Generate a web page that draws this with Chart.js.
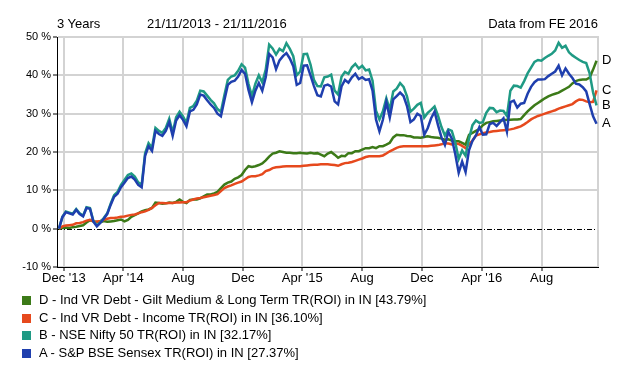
<!DOCTYPE html>
<html>
<head>
<meta charset="utf-8">
<script src="https://cdn.jsdelivr.net/npm/chart.js@4/dist/chart.umd.min.js"></script>
<style>
    body { margin: 0; background: #fff; }
    #wrap { position: relative; width: 624px; height: 369px; font-family: "Liberation Sans", Arial, sans-serif; color: #000; }
    #chart { position: absolute; left: 0; top: 0; }
    .hdr { position: absolute; top: 16px; font-size: 13px; line-height: 15px; white-space: nowrap; }
    #legend { position: absolute; left: 22px; top: 291px; font-size: 13px; }
    .row { height: 17.7px; line-height: 17.7px; white-space: nowrap; }
    .box { display: inline-block; width: 9px; height: 9px; margin-right: 8px; vertical-align: -1px; }
</style>
</head>
<body>
<div id="wrap">
    <canvas id="chart" width="624" height="369"></canvas>
    <div class="hdr" style="left:57px">3 Years</div>
    <div class="hdr" style="left:147px">21/11/2013 - 21/11/2016</div>
    <div class="hdr" style="right:26px">Data from FE 2016</div>
    <div id="legend"></div>
</div>
<script>
// Period shown on the chart
const startDate = '2013-11-21';
const endDate = '2016-11-21';

// X axis ticks (first day of each month shown)
const tickDates = ['2013-12-01', '2014-04-01', '2014-08-01', '2014-12-01', '2015-04-01', '2015-08-01', '2015-12-01', '2016-04-01', '2016-08-01'];
const tickLabels = ["Dec '13", "Apr '14", 'Aug', 'Dec', "Apr '15", 'Aug', 'Dec', "Apr '16", 'Aug'];

// Y axis
const yTicks = [-10, 0, 10, 20, 30, 40, 50];

// Series names, letters and colours
const seriesLetters = ['A', 'B', 'C', 'D'];
const seriesNames = [
    'A - S&P BSE Sensex TR(ROI) in IN [27.37%]',
    'B - NSE Nifty 50 TR(ROI) in IN [32.17%]',
    'C - Ind VR Debt - Income TR(ROI) in IN [36.10%]',
    'D - Ind VR Debt - Gilt Medium & Long Term TR(ROI) in IN [43.79%]'
];
const seriesColors = ['#1f3fae', '#1f9a84', '#e6491d', '#3c7a18'];

// Weekly cumulative return (%)
const seriesA = [
    0, 3.0, 4.3, 4.0, 3.7, 4.9, 3.8, 3.2, 5.4, 5.2,
    1.8, 0.6, 1.5, 2.6, 3.8, 6.2, 8.3, 9.1, 10.8, 12.0,
    13.2, 13.6, 12.8, 11.4, 10.8, 19.0, 21.5, 20.3, 25.5, 24.7,
    24.2, 25.5, 27.8, 24.2, 28.2, 29.6, 28.4, 26.7, 30.6, 31.0,
    32.4, 35.0, 34.7, 33.5, 32.4, 31.5, 30.0, 29.3, 33.5, 37.5,
    38.3, 38.6, 39.7, 41.4, 40.4, 36.2, 33.0, 36.0, 38.0, 36.0,
    39.5, 45.6, 44.7, 41.6, 43.9, 45.0, 45.8, 44.4, 42.4, 37.5,
    38.0, 42.5, 42.6, 40.0, 37.2, 34.8, 34.5, 37.3, 37.6, 37.1,
    33.2, 32.4, 37.1, 38.8, 38.1, 39.5, 40.4, 39.0, 39.5, 38.8,
    39.0, 36.0, 28.5, 25.4, 28.4, 33.0, 29.0, 33.7, 34.6, 35.5,
    34.6, 32.0, 27.8, 28.5, 30.0, 29.4, 24.5, 26.2, 28.8, 30.5,
    27.0, 23.8, 21.8, 25.3, 23.5, 19.5, 14.6, 17.5, 14.8, 20.5,
    22.9, 24.3, 26.5, 24.5, 24.6, 27.3, 27.6, 26.8, 27.8, 28.8,
    25.3, 33.0, 33.4, 31.6, 32.6, 32.8, 35.2, 37.0, 38.2, 38.9,
    38.9, 39.0, 39.8, 40.4, 41.0, 42.5, 40.0, 41.8, 40.4, 39.3,
    37.8, 37.6, 36.9, 35.8, 32.5, 29.3, 27.37
];
const seriesB = [
    0, 3.1, 4.5, 4.2, 3.9, 5.1, 4.0, 3.4, 5.6, 5.4,
    2.0, 0.8, 1.7, 2.8, 4.0, 6.5, 8.7, 9.6, 11.4, 12.7,
    14.0, 14.4, 13.6, 12.1, 11.4, 19.7, 22.3, 21.1, 26.3, 25.5,
    25.0, 26.3, 28.7, 25.1, 29.1, 30.5, 29.3, 27.6, 31.5, 32.0,
    33.4, 36.0, 35.8, 34.7, 33.6, 32.7, 31.2, 30.5, 34.8, 38.8,
    39.7, 40.0, 41.2, 42.9, 42.0, 37.8, 34.6, 37.8, 40.0, 38.2,
    41.5, 48.0, 47.0, 45.4, 46.9, 46.3, 48.4, 46.9, 45.0, 40.0,
    41.0, 45.5, 45.6, 42.8, 38.8, 37.2, 37.1, 39.5, 39.7, 40.2,
    36.0, 35.0, 39.6, 40.9, 40.4, 42.1, 43.0, 41.8, 42.5, 41.3,
    41.5, 38.6, 30.8, 28.5, 30.6, 34.0, 31.0, 35.8, 36.5, 38.0,
    37.0, 34.5, 30.5, 31.3, 32.3, 32.8, 29.0, 30.2, 31.0, 31.9,
    29.5, 26.5, 24.3, 25.9, 25.5, 22.5, 18.2, 20.4, 19.0, 23.5,
    27.0, 28.2, 27.6, 27.8, 30.2, 31.5, 31.4, 30.4, 30.8, 30.7,
    29.4, 36.0, 37.3, 37.2, 36.8, 38.5, 40.5, 42.0, 43.5, 44.0,
    43.8, 44.5, 45.1, 45.6, 46.5, 48.5, 47.2, 47.7, 46.0, 45.2,
    44.6, 44.0, 43.5, 43.2, 40.5, 35.5, 32.17
];
const seriesC = [
    0, 0.6, 0.8, 0.9, 1.0, 1.4, 1.5, 1.7, 2.1, 2.3,
    1.9, 1.8, 2.0, 2.3, 2.6, 2.8, 2.8, 2.9, 3.1, 3.2,
    3.4, 3.6, 3.7, 4.0, 4.3, 4.5, 4.9, 5.4, 6.1, 6.7,
    6.7, 6.6, 6.7, 6.7, 6.8, 6.8, 6.9, 6.9, 7.3, 7.6,
    7.9, 8.0, 8.2, 8.4, 8.6, 8.8, 9.0, 9.8, 10.6, 11.0,
    11.3, 11.7, 12.0, 12.3, 12.9, 13.5, 13.7, 13.7, 13.9, 14.2,
    15.0, 15.3, 15.8, 16.0, 16.1, 16.2, 16.3, 16.3, 16.3, 16.3,
    16.3, 16.4, 16.5, 16.6, 16.7, 16.7, 16.8, 16.8, 16.8, 16.7,
    16.6, 16.4, 16.8, 17.1, 17.2, 17.4, 17.7, 18.0, 18.3, 18.7,
    18.9, 18.9, 18.9, 18.9, 19.1, 19.6, 20.2, 20.6, 21.1, 21.4,
    21.5, 21.5, 21.5, 21.5, 21.5, 21.5, 21.5, 21.5, 21.6, 21.7,
    21.8, 22.0, 22.3, 22.2, 22.0, 22.3, 22.1, 21.6, 21.0, 22.0,
    23.0, 24.3, 24.6, 24.9, 25.1, 25.2, 25.4, 25.5, 25.6, 25.7,
    25.8, 25.9, 26.1, 26.4, 26.7, 27.2, 27.8, 28.5, 29.0, 29.4,
    29.7, 30.0, 30.3, 30.6, 30.9, 31.3, 31.6, 31.9, 32.2, 32.5,
    33.2, 33.7, 33.6, 33.2, 33.0, 33.1, 36.1
];
const seriesD = [
    0, 0.2, 0.3, 0.2, 0.4, 0.5, 0.7, 0.9, 1.6, 2.2,
    1.9, 1.8, 1.7, 2.0, 1.8, 1.9, 2.0, 2.2, 2.4, 1.9,
    2.3, 3.1, 3.5, 4.0, 4.5, 4.8, 5.0, 5.4, 6.8, 6.7,
    6.5, 6.6, 6.8, 6.7, 7.0, 7.6, 7.0, 6.7, 7.5, 7.6,
    7.6, 7.9, 8.4, 8.9, 8.9, 9.2, 9.6, 10.6, 11.5, 12.0,
    12.3, 13.0, 13.4, 14.0, 15.3, 16.3, 16.1, 16.3, 16.6, 17.0,
    17.8, 18.8, 19.6, 19.8, 20.2, 20.0, 19.8, 19.8, 19.7, 19.7,
    19.8, 19.7, 19.6, 19.8, 19.6, 19.7, 19.3, 18.9, 19.6, 20.0,
    19.3, 18.5, 19.0, 18.9, 19.7, 19.7, 20.2, 20.2, 20.6, 21.0,
    21.0, 21.3, 21.0, 21.5, 21.5, 21.9, 22.4, 23.8, 24.5, 24.4,
    24.4, 24.2, 24.1, 23.8, 23.8, 23.7, 23.9, 24.1, 23.9, 23.8,
    23.7, 23.5, 23.2, 23.3, 23.0, 22.8, 22.8, 22.4, 21.9, 24.5,
    25.0, 25.5, 26.0, 27.0, 27.6, 27.8, 28.0, 28.1, 28.2, 28.3,
    28.4, 28.4, 28.5, 28.5, 28.6, 29.6, 30.6, 31.4, 32.2, 32.8,
    33.4, 34.0, 34.5, 34.9, 35.2, 35.5, 36.0, 36.5, 37.0, 37.9,
    38.5, 38.8, 38.9, 38.9, 39.4, 41.5, 43.79
];

const allSeries = [seriesA, seriesB, seriesC, seriesD];

const fontFamily = '"Liberation Sans", Arial, sans-serif';

// days between two ISO dates
function daysFrom(a, b) {
    return (Date.parse(b) - Date.parse(a)) / 86400000;
}

document.addEventListener('DOMContentLoaded', function() {
    buildLegend();
    initChart();
});

// Legend below the chart, D on top
function buildLegend() {
    const legend = document.getElementById('legend');
    for (let i = seriesNames.length - 1; i >= 0; i--) {
        const row = document.createElement('div');
        row.className = 'row';
        const box = document.createElement('span');
        box.className = 'box';
        box.style.background = seriesColors[i];
        row.appendChild(box);
        row.appendChild(document.createTextNode(seriesNames[i]));
        legend.appendChild(row);
    }
}

function initChart() {
    const totalDays = daysFrom(startDate, endDate);
    const tickDays = tickDates.map(d => daysFrom(startDate, d));

    const datasets = allSeries.map(function(values, s) {
        const step = totalDays / (values.length - 1);
        return {
            label: seriesNames[s],
            data: values.map((v, i) => ({ x: i * step, y: v })),
            borderColor: seriesColors[s],
            backgroundColor: seriesColors[s],
            borderWidth: 2.5,
            pointRadius: 0,
            tension: 0,
            fill: false
        };
    });

    // zero line, right frame edge and end letters
    const extras = {
        id: 'extras',
        beforeDatasetsDraw(chart) {
            const { ctx, chartArea, scales } = chart;
            const y0 = Math.round(scales.y.getPixelForValue(0)) + 0.5;
            ctx.save();
            ctx.strokeStyle = '#000';
            ctx.lineWidth = 1;
            ctx.setLineDash([5, 2, 1, 2]);
            ctx.beginPath();
            ctx.moveTo(chartArea.left, y0);
            ctx.lineTo(chartArea.right, y0);
            ctx.stroke();
            ctx.setLineDash([]);
            ctx.strokeStyle = '#d3d3d3';
            ctx.lineWidth = 2;
            ctx.beginPath();
            ctx.moveTo(chartArea.right, chartArea.top - 1);
            ctx.lineTo(chartArea.right, chartArea.bottom);
            ctx.stroke();
            ctx.restore();
        },
        afterDraw(chart) {
            const { ctx, chartArea, scales } = chart;
            ctx.save();
            ctx.font = '13px ' + fontFamily;
            ctx.fillStyle = '#000';
            ctx.textBaseline = 'middle';
            allSeries.forEach(function(values, s) {
                const y = scales.y.getPixelForValue(values[values.length - 1]);
                ctx.fillText(seriesLetters[s], chartArea.right + 4, y);
            });
            ctx.restore();
        }
    };

    new Chart(document.getElementById('chart'), {
        type: 'line',
        data: { datasets: datasets },
        options: {
            responsive: false,
            animation: false,
            devicePixelRatio: 1,
            layout: { padding: { top: 37, right: 26, bottom: 82, left: 0 } },
            plugins: { legend: { display: false }, tooltip: { enabled: false } },
            scales: {
                x: {
                    type: 'linear',
                    min: -4,
                    max: totalDays + 3,
                    afterFit: s => { s.height = 20; },
                    afterBuildTicks: s => { s.ticks = tickDays.map(v => ({ value: v })); },
                    grid: { color: '#d3d3d3', lineWidth: 2, tickColor: '#000', tickLength: 4, tickWidth: 1 },
                    border: { color: '#000', width: 1 },
                    ticks: {
                        autoSkip: false,
                        maxRotation: 0,
                        padding: 0,
                        color: '#000',
                        font: { family: fontFamily, size: 13 },
                        callback: (v, i) => tickLabels[i]
                    }
                },
                y: {
                    min: yTicks[0],
                    max: yTicks[yTicks.length - 1],
                    afterFit: s => { s.width = 57; },
                    afterBuildTicks: s => { s.ticks = yTicks.map(v => ({ value: v })); },
                    grid: {
                        color: c => (c.tick && c.tick.value === 0) ? 'rgba(0,0,0,0)' : '#d3d3d3',
                        lineWidth: 2,
                        tickColor: '#000',
                        tickLength: 4,
                        tickWidth: 1
                    },
                    border: { color: '#000', width: 1 },
                    ticks: {
                        padding: 2,
                        color: '#000',
                        font: { family: fontFamily, size: 11 },
                        callback: v => v + ' %'
                    }
                }
            }
        },
        plugins: [extras]
    });
}
</script>
</body>
</html>
